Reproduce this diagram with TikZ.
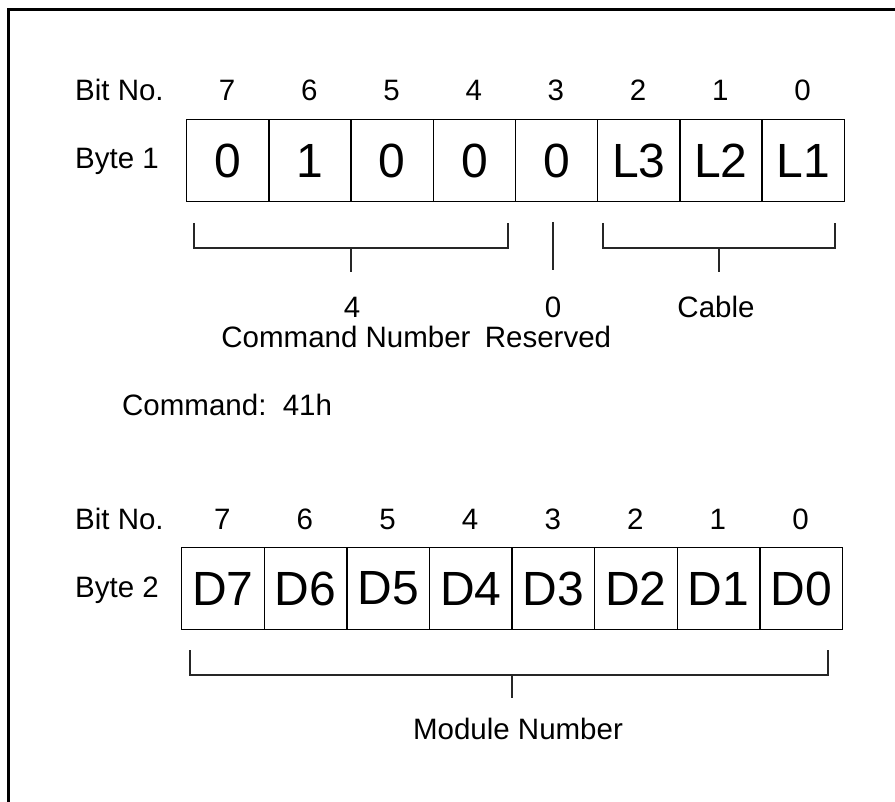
\documentclass[tikz,border=0pt]{standalone}
\usepackage{fontspec}
\setmainfont{Liberation Sans}
\begin{document}
\begin{tikzpicture}[x=1pt,y=-1pt,
  lbl/.style={font=\fontsize{29.5}{31}\selectfont, inner sep=0pt, anchor=base},
  lblw/.style={lbl, anchor=base west},
  cellbox/.style={draw, line width=1.3pt, minimum width=82.2pt, minimum height=82pt,
     font=\fontsize{48}{52}\selectfont, inner sep=0pt, anchor=north west},
  brk/.style={line width=1.1pt, draw=black!85},
  frame/.style={line width=3pt}]
\useasboundingbox (0,0) rectangle (895,802);
% outer frame
\coordinate (fbl) at (8,802);
\coordinate (ftl) at (8,10);
\coordinate (ftr) at (895,10);
\draw[frame] (fbl) -- (ftl) -- (ftr);

% ---- Byte 1 ----
\node[lblw] (bitno1) at (75,101) {Bit No.};
\node[lblw] (byte1) at (75,169) {Byte 1};
\foreach \v [count=\i from 0] in {0,1,0,0,0,L3,L2,L1}{
  \node[cellbox] (a\i) at ({186+82.2*\i},119) {\v};
}
\foreach \b [count=\i from 0] in {7,6,5,4,3,2,1,0}{
  \node[lbl] (n\i) at ({186+82.2*\i+41.1},101) {\b};
}
% brackets
\coordinate (p1) at (194,223);
\coordinate (p2) at (194,248);
\coordinate (p3) at (508,248);
\coordinate (p4) at (508,223);
\coordinate (p5) at (351,248);
\coordinate (p6) at (351,272);
\draw[brk] (p1) -- (p2) -- (p3) -- (p4);
\draw[brk] (p5) -- (p6);
\coordinate (r1) at (553,222);
\coordinate (r2) at (553,270);
\draw[brk] (r1) -- (r2);
\coordinate (q1) at (603,223);
\coordinate (q2) at (603,248);
\coordinate (q3) at (835,248);
\coordinate (q4) at (835,223);
\coordinate (q5) at (719,248);
\coordinate (q6) at (719,272);
\draw[brk] (q1) -- (q2) -- (q3) -- (q4);
\draw[brk] (q5) -- (q6);
\node[lbl] (v4) at (352,318) {4};
\node[lbl] (v0) at (553,318) {0};
\node[lbl] (cable) at (716,318) {Cable};
\node[lbl] (cmdnum) at (346,348) {Command Number};
\node[lbl] (resv) at (548,348) {Reserved};
\node[lblw] (cmd) at (122,416) {Command:\ \ 41h};

% ---- Byte 2 ----
\node[lblw] (bitno2) at (75,529) {Bit No.};
\node[lblw] (byte2) at (75,597) {Byte 2};
\foreach \v [count=\i from 0] in {D7,D6,D5,D4,D3,D2,D1,D0}{
  \node[cellbox, minimum width=82.6pt] (b\i) at ({181+82.6*\i},547) {\v};
}
\foreach \b [count=\i from 0] in {7,6,5,4,3,2,1,0}{
  \node[lbl] (m\i) at ({181+82.6*\i+41.3},529) {\b};
}
\coordinate (s1) at (190,650);
\coordinate (s2) at (190,675);
\coordinate (s3) at (828,675);
\coordinate (s4) at (828,650);
\coordinate (s5) at (512,675);
\coordinate (s6) at (512,698);
\draw[brk] (s1) -- (s2) -- (s3) -- (s4);
\draw[brk] (s5) -- (s6);
\node[lbl] (modnum) at (518,739) {Module Number};
\end{tikzpicture}
\end{document}
